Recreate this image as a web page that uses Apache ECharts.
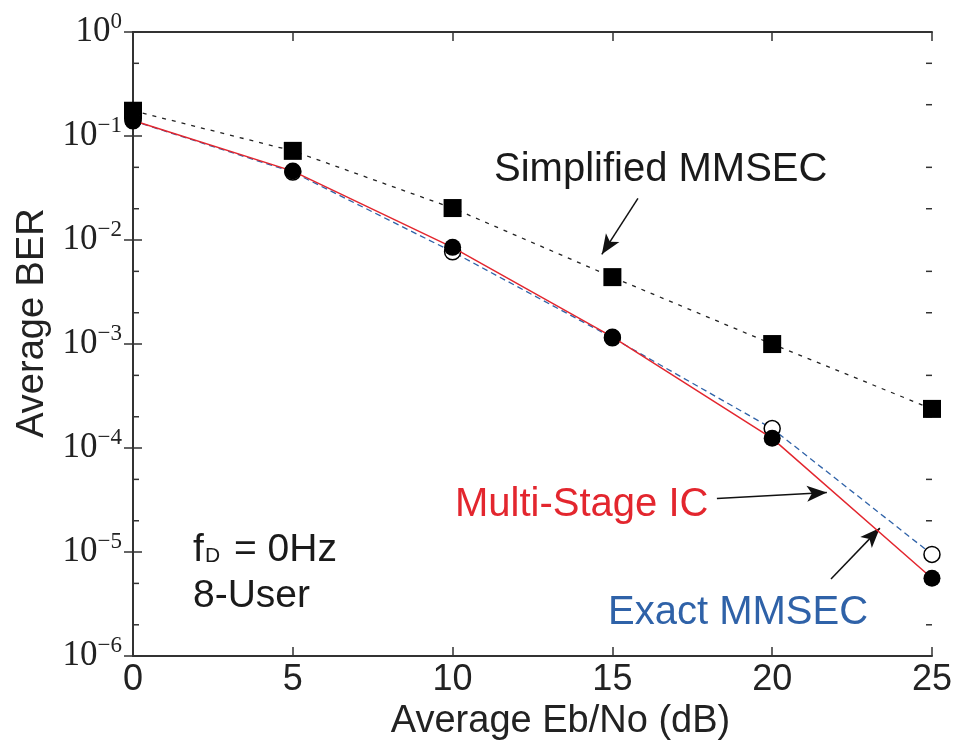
<!DOCTYPE html>
<html>
<head>
<meta charset="utf-8">
<script src="https://cdn.jsdelivr.net/npm/echarts@6/dist/echarts.min.js"></script>
<style>html,body{margin:0;padding:0;background:#fff;}#c{width:955px;height:746px;}</style>
</head>
<body>
<div id="c"></div>
<script>
// ---- data ----
const ebno = [0, 5, 10, 15, 20, 25];
const simplifiedMMSEC = [0.175, 0.072, 0.0203, 0.0044, 0.00100, 2.38e-4];
const multiStageIC   = [0.141, 0.046, 0.0085, 0.00117, 1.24e-4, 5.6e-6];
const exactMMSEC     = [0.140, 0.045, 0.0077, 0.00115, 1.54e-4, 9.5e-6];
const xTicks = [0, 5, 10, 15, 20, 25];
const yTickExponents = [0, -1, -2, -3, -4, -5, -6];
const yMinorTicks = [2e-6,5e-6,2e-5,5e-5,2e-4,5e-4,2e-3,5e-3,2e-2,5e-2,0.2,0.5];

const pair = (xs, ys) => xs.map((x, i) => [x, ys[i]]);
const sans = 'Liberation Sans, Arial, sans-serif';
const serif = 'Liberation Serif, Times New Roman, serif';
const axisCol = '#333';

const chart = echarts.init(document.getElementById('c'), null, {renderer: 'canvas'});

const baseX = {
  type: 'value', min: 0, max: 25, interval: 5,
  axisLine: {show: true, lineStyle: {color: axisCol, width: 2}},
  axisTick: {show: true, inside: true, length: 9, lineStyle: {color: axisCol, width: 1.5}},
  splitLine: {show: false}
};
const baseY = {
  type: 'log', logBase: 10, min: 1e-6, max: 1, interval: 1,
  axisLine: {show: true, lineStyle: {color: axisCol, width: 2}},
  axisTick: {show: true, inside: true, length: 9, lineStyle: {color: axisCol, width: 1.5}},
  splitLine: {show: false}
};

const option = {
  backgroundColor: '#fff',
  animation: false,
  grid: {left: 133, right: 23, top: 32, bottom: 80, containLabel: false},
  xAxis: [
    Object.assign({}, baseX, {
      position: 'bottom',
      name: 'Average Eb/No (dB)', nameLocation: 'middle', nameGap: 37,
      nameTextStyle: {fontFamily: sans, fontSize: 38, color: '#222', padding: [0, 0, 0, 56]},
      axisLabel: {show: true, margin: 6, fontFamily: sans, fontSize: 36, color: '#222',
        formatter: v => xTicks.includes(v) ? String(v) : ''}
    }),
    Object.assign({}, baseX, {position: 'top', axisLabel: {show: false}})
  ],
  yAxis: [
    Object.assign({}, baseY, {
      position: 'left',
      name: 'Average BER', nameLocation: 'middle', nameGap: 79,
      nameTextStyle: {fontFamily: sans, fontSize: 38, color: '#222', padding: [0, 0, 0, 42]},
      axisLabel: {
        show: true, margin: 11,
        formatter: v => {
          const e = Math.round(Math.log10(v));
          if (!yTickExponents.includes(e)) return '';
          return '{b|10}{s|' + (e < 0 ? '\u2212' + (-e) : String(e)) + '}';
        },
        rich: {
          b: {fontFamily: serif, fontSize: 35, color: '#222', lineHeight: 44},
          s: {fontFamily: serif, fontSize: 23, color: '#222', lineHeight: 23, verticalAlign: 'top'}
        }
      }
    }),
    Object.assign({}, baseY, {position: 'right', axisLabel: {show: false}})
  ],
  series: [
    {
      name: 'minorTicks', type: 'custom', xAxisIndex: 0, yAxisIndex: 0, silent: true, clip: false,
      data: yMinorTicks.map(v => [0, v]),
      renderItem: (params, api) => {
        const v = api.value(1);
        const a = api.coord([0, v]);
        const b = api.coord([25, v]);
        return {
          type: 'group',
          children: [
            {type: 'line', shape: {x1: a[0], y1: a[1], x2: a[0] + 6, y2: a[1]}, style: {stroke: axisCol, lineWidth: 1.5}},
            {type: 'line', shape: {x1: b[0] - 6, y1: b[1], x2: b[0], y2: b[1]}, style: {stroke: axisCol, lineWidth: 1.5}}
          ]
        };
      }
    },
    {
      name: 'Simplified MMSEC', type: 'line', data: pair(ebno, simplifiedMMSEC),
      symbol: 'rect', symbolSize: 18, clip: false,
      itemStyle: {color: '#000'},
      lineStyle: {color: '#222', width: 1.3, type: [4, 6]},
      z: 3,
      markLine: {
        silent: true, symbol: ['none', 'arrow'], symbolSize: [12, 20],
        label: {show: false},
        lineStyle: {color: '#111', width: 1.5, type: 'solid'},
        data: [
          [{coord: [15.80, 0.0252]}, {coord: [14.67, 0.00728]}],
          [{coord: [18.27, 3.28e-5]}, {coord: [21.71, 3.73e-5]}],
          [{coord: [21.84, 5.5e-6]}, {coord: [23.37, 1.7e-5]}]
        ]
      }
    },
    {
      name: 'Exact MMSEC', type: 'line', data: pair(ebno, exactMMSEC),
      symbol: 'circle', symbolSize: 16, clip: false,
      itemStyle: {color: '#fff', borderColor: '#000', borderWidth: 1.5},
      lineStyle: {color: '#2f62a8', width: 1.3, type: [6, 4]},
      z: 4
    },
    {
      name: 'Multi-Stage IC', type: 'line', data: pair(ebno, multiStageIC),
      symbol: 'circle', symbolSize: 17, clip: false,
      itemStyle: {color: '#000'},
      lineStyle: {color: '#e3262e', width: 1.5, type: 'solid'},
      z: 5
    }
  ],
  graphic: [
    {type: 'text', left: 494, top: 150, style: {text: 'Simplified MMSEC', font: '40px ' + sans, fill: '#1a1a1a'}},
    {type: 'text', left: 455, top: 485, style: {text: 'Multi-Stage IC', font: '40px ' + sans, fill: '#e3262e'}},
    {type: 'text', left: 608, top: 593, style: {text: 'Exact MMSEC', font: '40px ' + sans, fill: '#2f62a8'}},
    {type: 'text', left: 193, top: 531, style: {text: 'f', font: '39px ' + sans, fill: '#1a1a1a'}},
    {type: 'text', left: 205, top: 546, style: {text: 'D', font: '21px ' + sans, fill: '#1a1a1a'}},
    {type: 'text', left: 234, top: 531, style: {text: '= 0Hz', font: '39px ' + sans, fill: '#1a1a1a'}},
    {type: 'text', left: 193, top: 577, style: {text: '8-User', font: '39px ' + sans, fill: '#1a1a1a'}}
  ]
};
chart.setOption(option);
</script>
</body>
</html>
